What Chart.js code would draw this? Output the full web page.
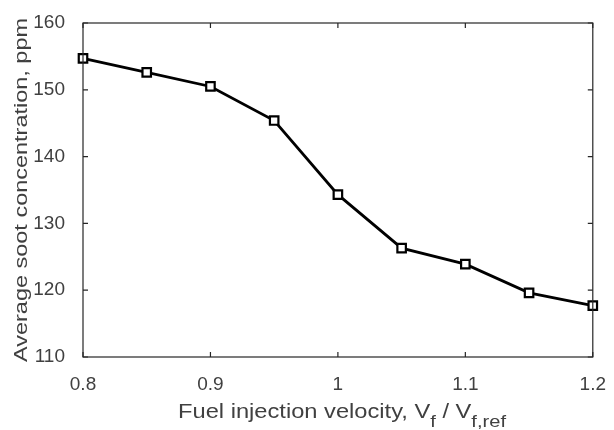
<!DOCTYPE html>
<html>
<head>
<meta charset="utf-8">
<script src="https://cdn.jsdelivr.net/npm/chart.js@4/dist/chart.umd.min.js"></script>
<style>
  html, body { margin: 0; padding: 0; background: #fff; }
</style>
</head>
<body>
<canvas id="soot" width="614" height="430"></canvas>
<script>
// velocity ratio Vf / Vf,ref
var velocity = [0.8, 0.85, 0.9, 0.95, 1.0, 1.05, 1.1, 1.15, 1.2];
// average soot concentration, ppm
var soot = [154.7, 152.6, 150.5, 145.4, 134.3, 126.3, 123.9, 119.6, 117.7];
var xTicks = [0.8, 0.9, 1, 1.1, 1.2];
var yTicks = [110, 120, 130, 140, 150, 160];

var FONT = '"Liberation Sans", Arial, sans-serif';
var TEXT = '#404040';

// inward ticks on all four sides + closed box, and the axis titles
var framePlugin = {
  id: 'frame',
  afterDraw: function(chart) {
    var c = chart.ctx, a = chart.chartArea;
    var xs = chart.scales.x, ys = chart.scales.y;
    var len = 5;
    c.save();
    c.strokeStyle = '#262626';
    c.lineWidth = 1.2;
    c.strokeRect(a.left, a.top, a.right - a.left, a.bottom - a.top);
    c.beginPath();
    xTicks.forEach(function(v) {
      var px = xs.getPixelForValue(v);
      c.moveTo(px, a.bottom); c.lineTo(px, a.bottom - len);
      c.moveTo(px, a.top); c.lineTo(px, a.top + len);
    });
    yTicks.forEach(function(v) {
      var py = ys.getPixelForValue(v);
      c.moveTo(a.left, py); c.lineTo(a.left + len, py);
      c.moveTo(a.right, py); c.lineTo(a.right - len, py);
    });
    c.stroke();

    c.fillStyle = TEXT;
    // y title, stretched along its length to the reference span
    c.save();
    c.font = '19px ' + FONT;
    var yt = 'Average soot concentration, ppm';
    var sy = 344 / c.measureText(yt).width;
    c.translate(22, (a.top + a.bottom) / 2);
    c.rotate(-Math.PI / 2);
    c.scale(sy, 1);
    c.textAlign = 'center';
    c.textBaseline = 'middle';
    c.fillText(yt, 0, 0);
    c.restore();

    // x title with subscripts
    var big = '20px ' + FONT, small = '17px ' + FONT;
    var parts = [
      ['Fuel injection velocity, V', big, 0],
      ['f', small, 9],
      [' / V', big, 0],
      ['f,ref', small, 9]
    ];
    var total = 0;
    parts.forEach(function(p) { c.font = p[1]; p.w = c.measureText(p[0]).width; total += p.w; });
    var sx = 328 / total;
    c.save();
    c.translate(342 - 164, 418);
    c.scale(sx, 1);
    c.textAlign = 'left';
    c.textBaseline = 'alphabetic';
    var x = 0;
    parts.forEach(function(p) {
      c.font = p[1];
      c.fillText(p[0], x, p[2]);
      x += p.w;
    });
    c.restore();
    c.restore();
  }
};

new Chart('soot', {
  type: 'line',
  data: {
    datasets: [{
      data: velocity.map(function(v, i) { return { x: v, y: soot[i] }; }),
      borderColor: '#000',
      borderWidth: 2.8,
      pointStyle: 'rect',
      pointRadius: 6,
      pointBorderWidth: 2.2,
      pointBackgroundColor: '#fff',
      pointBorderColor: '#000',
      tension: 0,
      clip: false
    }]
  },
  options: {
    responsive: false,
    animation: false,
    devicePixelRatio: 1,
    layout: { padding: { top: 23, right: 15, left: 0, bottom: 0 } },
    plugins: { legend: { display: false }, tooltip: { enabled: false } },
    scales: {
      x: {
        type: 'linear', min: 0.8, max: 1.2,
        afterBuildTicks: function(s) { s.ticks = xTicks.map(function(v) { return { value: v }; }); },
        afterFit: function(s) { s.height = 73; },
        grid: { display: false },
        border: { display: false },
        ticks: {
          color: TEXT, padding: 8,
          font: { family: FONT, size: 19 },
          maxRotation: 0,
          callback: function(v) { return String(v); }
        }
      },
      y: {
        min: 110, max: 160,
        afterBuildTicks: function(s) { s.ticks = yTicks.map(function(v) { return { value: v }; }); },
        afterFit: function(s) { s.width = 83; },
        grid: { display: false },
        border: { display: false },
        ticks: {
          color: TEXT, padding: 10,
          font: { family: FONT, size: 19 }
        }
      }
    }
  },
  plugins: [framePlugin]
});
</script>
</body>
</html>
